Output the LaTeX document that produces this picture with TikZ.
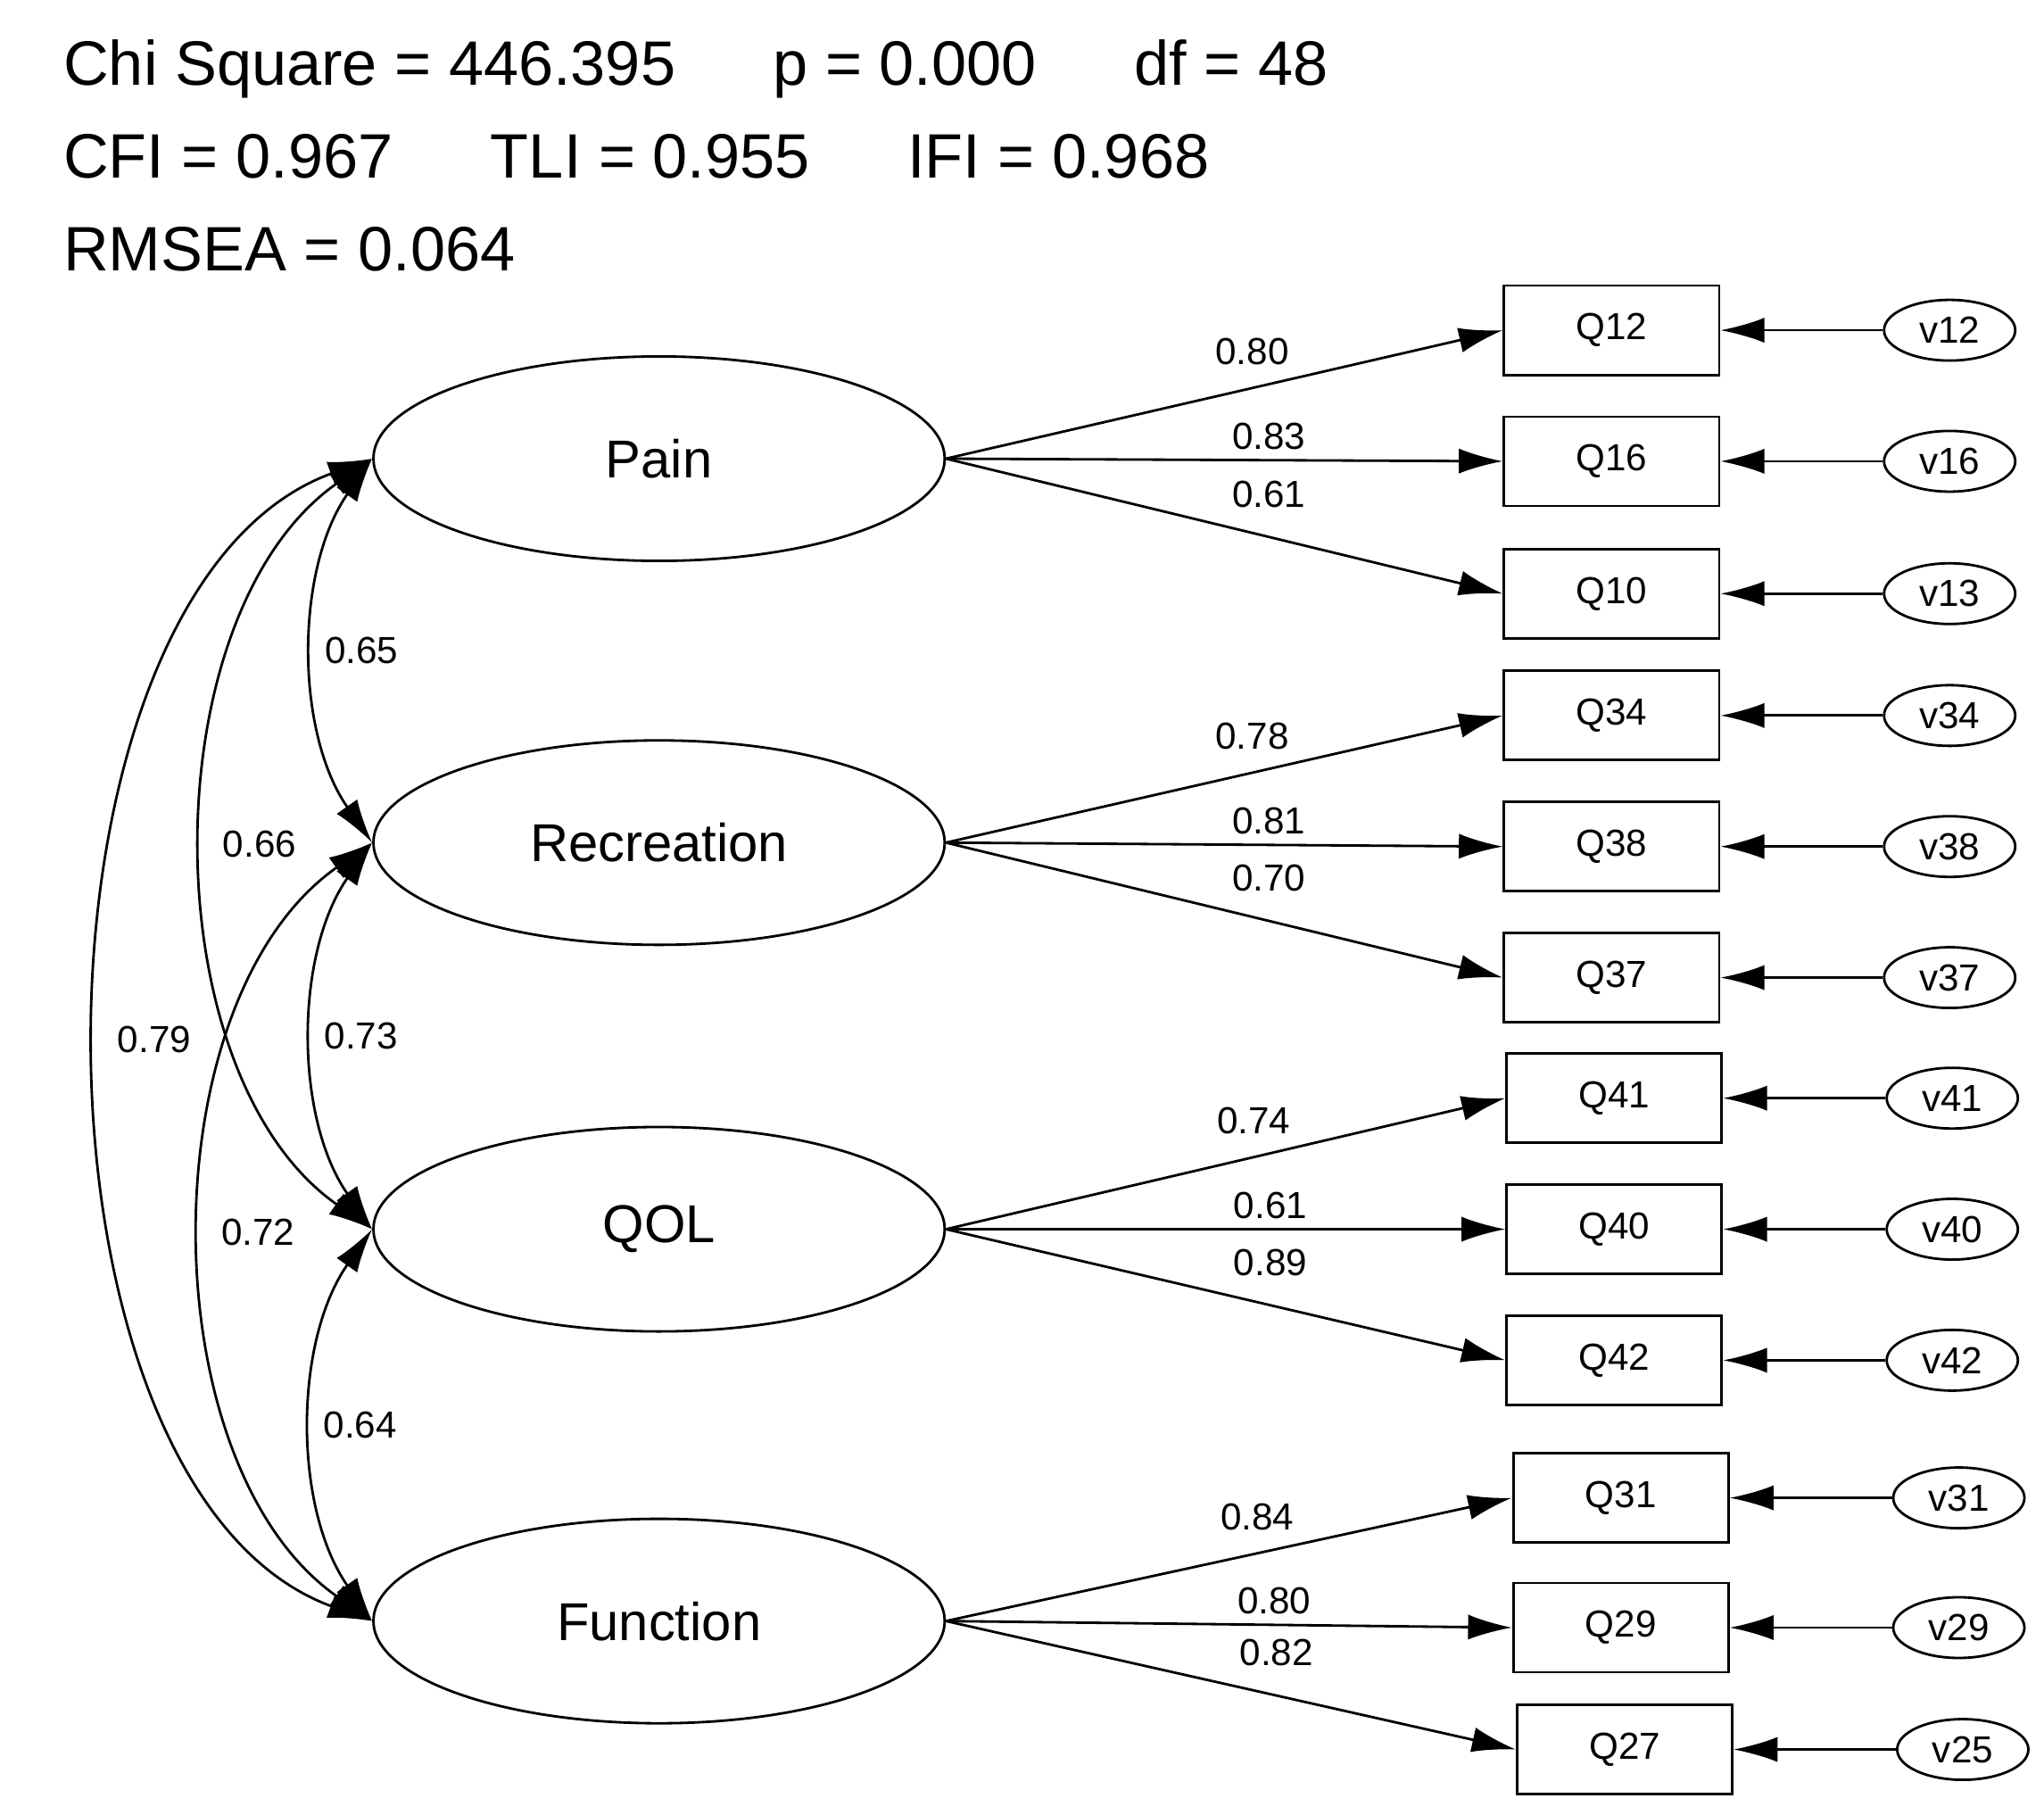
\documentclass[tikz,border=0pt]{standalone}
\usepackage{fontspec}
\setmainfont{Liberation Sans}
\usetikzlibrary{arrows.meta, shapes.geometric}
\tikzset{factor/.style = {draw, thick, ellipse, minimum width=6.4cm, minimum height=2.29cm, font=\fontsize{17}{20}\selectfont}}
\tikzset{item/.style = {draw, thick, minimum width=2.41cm, minimum height=1.0cm, inner sep=0pt, font=\fontsize{12}{14}\selectfont}}
\tikzset{err/.style = {draw, thick, ellipse, minimum width=1.47cm, minimum height=0.68cm, inner sep=0pt, font=\fontsize{12}{14}\selectfont}}
\tikzset{arr/.style = {thick, -{Latex[length=14pt,width=8pt]}}}
\tikzset{cov/.style = {thick, {Latex[length=14pt,width=8pt]}-{Latex[length=14pt,width=8pt]}}}
\tikzset{lbl/.style = {font=\fontsize{12}{14}\selectfont, inner sep=1pt}}

\begin{document}
\begin{tikzpicture}[x=0.014686cm, y=-0.014686cm]
\useasboundingbox (0,0) rectangle (1560,1385);

\node[anchor=base west, font=\fontsize{20}{24}\selectfont] (fit1) at (40,65) {Chi Square = 446.395 \quad\ p = 0.000 \quad\ df = 48};
\node[anchor=base west, font=\fontsize{20}{24}\selectfont] (fit2) at (40,136) {CFI = 0.967 \quad\ TLI = 0.955 \quad\ IFI = 0.968};
\node[anchor=base west, font=\fontsize{20}{24}\selectfont] (fit3) at (40,207) {RMSEA = 0.064};

% factors
\node[factor] (pain) at (503,350) {Pain};
\node[factor] (rec) at (503,643) {Recreation};
\node[factor] (qol) at (503,938) {QOL};
\node[factor] (func) at (503,1237) {Function};

% indicators and errors
\foreach \name/\q/\v/\x/\y in {q12/Q12/v12/1230/252, q16/Q16/v16/1230/352, q10/Q10/v13/1230/453,
  q34/Q34/v34/1230/546, q38/Q38/v38/1230/646, q37/Q37/v37/1230/746,
  q41/Q41/v41/1232/838, q40/Q40/v40/1232/938, q42/Q42/v42/1232/1038,
  q31/Q31/v31/1237/1143, q29/Q29/v29/1237/1242, q27/Q27/v25/1240/1335} {
  \node[item] (\name) at (\x,\y) {\q};
  \node[err] (e\name) at (\x+258,\y) {\v};
  \draw[arr] (e\name) -- (\name);
}

% loadings
\foreach \f/\a/\b/\c/\la/\lb/\lc in {pain/q12/q16/q10/0.80/0.83/0.61, rec/q34/q38/q37/0.78/0.81/0.70,
  qol/q41/q40/q42/0.74/0.61/0.89, func/q31/q29/q27/0.84/0.80/0.82} {
  \draw[arr] (\f.east) -- (\a.west) node[lbl, pos=0.55, above=6pt] {\la};
  \draw[arr] (\f.east) -- (\b.west) node[lbl, pos=0.58, above=2pt] {\lb};
  \draw[arr] (\f.east) -- (\c.west) node[lbl, pos=0.58, above=8pt] {\lc};
}

% covariances
\draw[cov] (pain.west) to[out=235, in=125, looseness=0.9] node[lbl, right=2pt, pos=0.5] {0.65} (rec.west);
\draw[cov] (pain.west) to[out=215, in=145, looseness=0.9] node[lbl, right=4pt, pos=0.5] {0.66} (qol.west);
\draw[cov] (pain.west) to[out=200, in=160, looseness=0.85] node[lbl, right=4pt, pos=0.5] {0.79} (func.west);
\draw[cov] (rec.west) to[out=235, in=125, looseness=0.9] node[lbl, right=2pt, pos=0.5] {0.73} (qol.west);
\draw[cov] (rec.west) to[out=215, in=145, looseness=0.9] node[lbl, right=4pt, pos=0.5] {0.72} (func.west);
\draw[cov] (qol.west) to[out=235, in=125, looseness=0.9] node[lbl, right=2pt, pos=0.5] {0.64} (func.west);
\end{tikzpicture}
\end{document}
